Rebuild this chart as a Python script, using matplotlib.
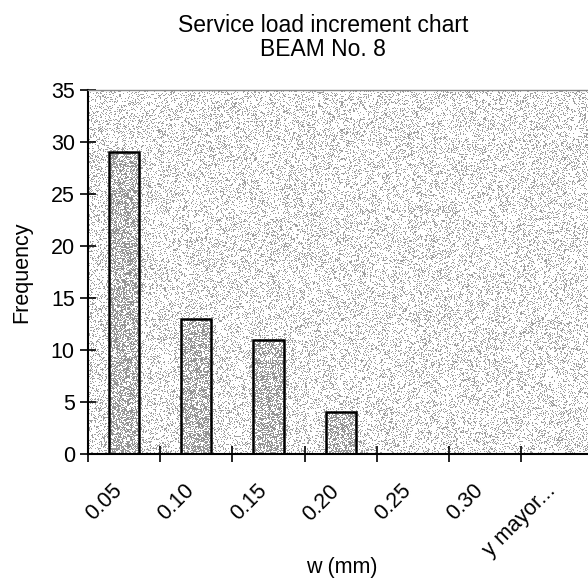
import numpy as np
import matplotlib
matplotlib.use("Agg")
import matplotlib.pyplot as plt

plt.rcParams['font.family'] = ['Liberation Sans', 'DejaVu Sans']

# Histogram of crack widths
categories = ["0.05", "0.10", "0.15", "0.20", "0.25", "0.30", "y mayor..."]
frequency = [29, 13, 11, 4, 0, 0, 0]
y_ticks = [0, 5, 10, 15, 20, 25, 30, 35]

W, H = 588, 579
fig = plt.figure(figsize=(W / 100, H / 100), dpi=100)
fig.patch.set_facecolor("white")

left_px, right_px, top_px, bottom_px = 88, 593.5, 90, 454
ax = fig.add_axes([left_px / W, 1 - bottom_px / H,
                   (right_px - left_px) / W, (bottom_px - top_px) / H])

n = len(categories)
x = np.arange(n)
ax.set_xlim(-0.5, n - 0.5)
ax.set_ylim(0, 35)

# stippled fill for the plot area and the bars
rng = np.random.default_rng(8)
tw, th = int(right_px - left_px), int(bottom_px - top_px)

def stipple(density, dot):
    mask = rng.random((th, tw)) < density
    img = np.full((th, tw), 255.0)
    img[mask] = dot
    return img

bg = stipple(0.24, 160)
ax.imshow(bg, cmap="gray", vmin=0, vmax=255, extent=(-0.5, n - 0.5, 0, 35),
          aspect="auto", interpolation="nearest", zorder=0)

bars = ax.bar(x, frequency, width=0.42, facecolor="none", edgecolor="black",
              linewidth=1.8, zorder=3)
bar_tex = stipple(0.55, 150)
for b in bars:
    if b.get_height() > 0:
        im = ax.imshow(bar_tex, cmap="gray", vmin=0, vmax=255,
                       extent=(-0.5, n - 0.5, 0, 35), aspect="auto",
                       interpolation="nearest", zorder=2)
        im.set_clip_path(b)

ax.set_xticks(np.arange(n + 1) - 0.5)
ax.set_xticklabels([])
ax.tick_params(axis="x", direction="inout", length=11, width=1.2, color="black")
for xi, lab in zip(x, categories):
    ax.annotate(lab, xy=(xi, 0), xycoords="data", xytext=(-9, -19),
                textcoords="offset points", rotation=45, ha="right", va="top",
                rotation_mode="anchor", fontsize=15.5)

ax.set_yticks(y_ticks)
ax.set_yticklabels([str(v) for v in y_ticks], fontsize=15.5)
ax.tick_params(axis="y", direction="inout", length=11, width=1.2, pad=4)

for s in ("left", "bottom"):
    ax.spines[s].set_color("black")
    ax.spines[s].set_linewidth(1.5)
ax.spines["right"].set_visible(False)
ax.spines["top"].set_color("#888888")
ax.spines["top"].set_linewidth(1.0)

ax.set_ylabel("Frequency", fontsize=15.5, labelpad=13)
fig.text(342 / W, 1 - 567 / H, "w (mm)", ha="center", va="center", fontsize=15.5)
fig.text(323 / W, 1 - 25 / H, "Service load increment chart", ha="center",
         va="center", fontsize=16.5)
fig.text(323 / W, 1 - 50 / H, "BEAM No. 8", ha="center", va="center",
         fontsize=16.5)

fig.savefig("out.png", dpi=100)
